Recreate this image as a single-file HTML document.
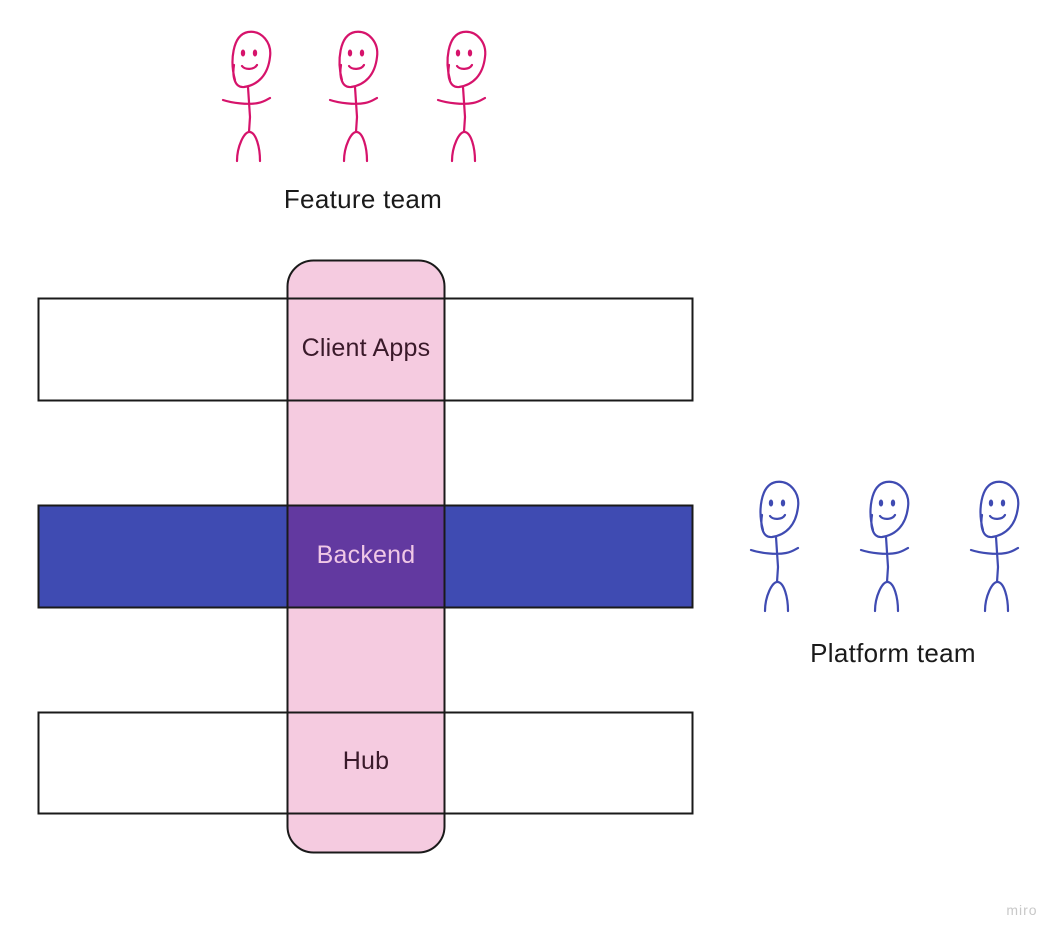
<!DOCTYPE html>
<html><head><meta charset="utf-8"><style>
html,body{margin:0;padding:0;background:#fff;width:1063px;height:940px;overflow:hidden}
text{font-family:"Liberation Sans",sans-serif}
</style></head><body>
<svg width="1063" height="940" viewBox="0 0 1063 940" xmlns="http://www.w3.org/2000/svg">
<defs>
<g id="fig" fill="none" stroke-width="2.2" stroke-linecap="round" stroke-linejoin="round">
  <path d="M-15,23 C-20,5 -18,-22 -2,-25 C12,-27 22,-14 20,0 C18,18 8,28 -6,30 C-15,31 -18,20 -16,8"/>
  <path d="M-8,9 C-5,13 4,13 7,8"/>
  <path d="M-2,30 L0,60 L-1,75"/>
  <path d="M-27,43 C-18,46 -2,48 8,46 C14,45 18,42 20,41"/>
  <path d="M-13,104 C-13,90 -6,74 0,75 C6,76 10,90 10,104"/>
</g>
</defs>

<g stroke="#d6136b" fill="#d6136b">
  <use href="#fig" x="250" y="57"/>
  <use href="#fig" x="357" y="57"/>
  <use href="#fig" x="465" y="57"/>
  <ellipse cx="243" cy="53" rx="2.2" ry="3.5" stroke="none"/><ellipse cx="255" cy="53" rx="2.2" ry="3.5" stroke="none"/>
  <ellipse cx="350" cy="53" rx="2.2" ry="3.5" stroke="none"/><ellipse cx="362" cy="53" rx="2.2" ry="3.5" stroke="none"/>
  <ellipse cx="458" cy="53" rx="2.2" ry="3.5" stroke="none"/><ellipse cx="470" cy="53" rx="2.2" ry="3.5" stroke="none"/>
</g>
<text x="363" y="208" font-size="26" fill="#1a1a1a" text-anchor="middle" letter-spacing="0.3">Feature team</text>

<g stroke="#3f4bb2" fill="#3f4bb2">
  <use href="#fig" x="778" y="507"/>
  <use href="#fig" x="888" y="507"/>
  <use href="#fig" x="998" y="507"/>
  <ellipse cx="771" cy="503" rx="2.2" ry="3.5" stroke="none"/><ellipse cx="783" cy="503" rx="2.2" ry="3.5" stroke="none"/>
  <ellipse cx="881" cy="503" rx="2.2" ry="3.5" stroke="none"/><ellipse cx="893" cy="503" rx="2.2" ry="3.5" stroke="none"/>
  <ellipse cx="991" cy="503" rx="2.2" ry="3.5" stroke="none"/><ellipse cx="1003" cy="503" rx="2.2" ry="3.5" stroke="none"/>
</g>
<text x="893" y="662" font-size="26" fill="#1a1a1a" text-anchor="middle" letter-spacing="0.3">Platform team</text>

<rect x="38.5" y="298.5" width="654" height="102" fill="#fff" stroke="#1a1a1a" stroke-width="2"/>
<rect x="38.5" y="505.5" width="654" height="102" fill="#3f4bb2" stroke="#1a1a1a" stroke-width="2"/>
<rect x="38.5" y="712.5" width="654" height="101" fill="#fff" stroke="#1a1a1a" stroke-width="2"/>

<rect x="287.5" y="260.5" width="157" height="592" rx="26" fill="#f5cbe0" stroke="#1a1a1a" stroke-width="2"/>
<rect x="288.5" y="506.5" width="155" height="100" fill="#6239a0"/>
<line x1="38" y1="298.5" x2="693" y2="298.5" stroke="#1a1a1a" stroke-width="2"/>
<line x1="38" y1="400.5" x2="693" y2="400.5" stroke="#1a1a1a" stroke-width="2"/>
<line x1="38" y1="505.5" x2="693" y2="505.5" stroke="#1a1a1a" stroke-width="2"/>
<line x1="38" y1="607.5" x2="693" y2="607.5" stroke="#1a1a1a" stroke-width="2"/>
<line x1="38" y1="712.5" x2="693" y2="712.5" stroke="#1a1a1a" stroke-width="2"/>
<line x1="38" y1="813.5" x2="693" y2="813.5" stroke="#1a1a1a" stroke-width="2"/>

<text x="366" y="356" font-size="25" fill="#3a1a2a" text-anchor="middle" letter-spacing="0.2">Client Apps</text>
<text x="366" y="563" font-size="25" fill="#f0c8e6" text-anchor="middle" letter-spacing="0.2">Backend</text>
<text x="366" y="769" font-size="25" fill="#3a1a2a" text-anchor="middle" letter-spacing="0.2">Hub</text>

<text x="1022" y="915" font-size="14" fill="#c8c8c8" text-anchor="middle" letter-spacing="1">miro</text>
</svg>
</body></html>
